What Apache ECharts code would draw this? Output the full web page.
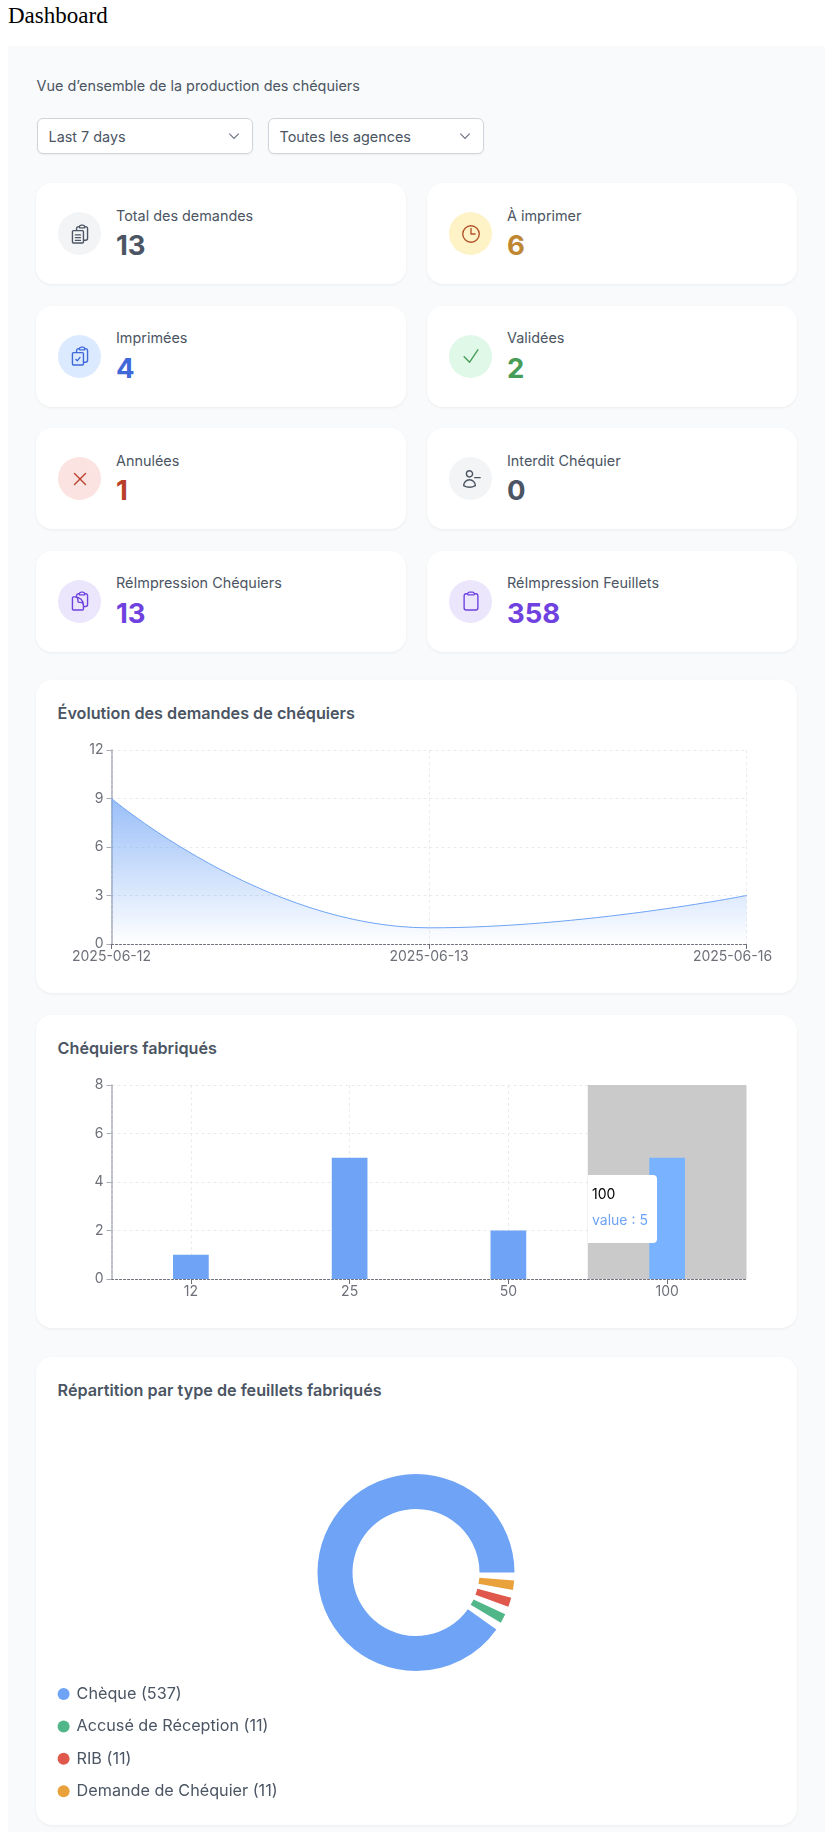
<!DOCTYPE html>
<html lang="fr">
<head>
  <title>Dashboard</title>
  <meta charset="utf-8"/>
  <script src="https://cdn.jsdelivr.net/npm/echarts@6/dist/echarts.min.js"></script>
  <style>
    html, body { margin: 0; height: 1832px; overflow: hidden; background: #fff; }
    body { position: relative; font-family: Inter, sans-serif; color: #4b5563; }
    h1 { position: absolute; left: 8px; top: 2px; margin: 0; font: 400 23px/28px "Liberation Serif", serif; color: #000; }
    #panel { position: absolute; left: 8px; top: 46px; width: 817px; height: 1786px; background: #f9fafb; }
    .subtitle { position: absolute; left: 36.5px; top: 76px; font-size: 14.4px; line-height: 20px; }
    .select { position: absolute; top: 118px; width: 214px; height: 34px; background: #fff; border: 1px solid #d1d5db; border-radius: 6px;
      box-shadow: 0 1px 2px rgba(0,0,0,.05); font-size: 14.4px; line-height: 36px; text-indent: 11px; }
    .select svg { position: absolute; right: 11px; top: 10px; width: 14px; height: 14px; fill: none; stroke: #6b7280; stroke-width: 2; }
    .card { position: absolute; background: #fff; border-radius: 16px; box-shadow: 0 1px 3px rgba(0,0,0,.06); }
    .kpi { width: 369.5px; height: 101px; }
    .kpi .circle { position: absolute; left: 22px; top: 29px; width: 43px; height: 43px; border-radius: 50%; display: flex; align-items: center; justify-content: center; }
    .kpi svg { width: 22px; height: 22px; fill: none; stroke-width: 1.5; stroke-linecap: round; stroke-linejoin: round; }
    .kpi .label { position: absolute; left: 80px; top: 22.5px; font-size: 14.4px; line-height: 20px; white-space: nowrap; }
    .kpi .value { position: absolute; left: 80px; top: 44px; font-size: 27.5px; line-height: 36px; font-weight: 700; }
    .wide { left: 36px; width: 761px; }
    .wide h2 { position: absolute; left: 21.6px; top: 22px; margin: 0; font-size: 16.2px; line-height: 22px; font-weight: 600; color: #4b5563; white-space: nowrap; }
    .chart { position: absolute; left: 0; top: 50px; width: 761px; }
  </style>
</head>

<body>
<h1>Dashboard</h1>
<div id="panel"></div>
<div class="subtitle">Vue d’ensemble de la production des chéquiers</div>
<div class="select" style="left:36.5px">Last 7 days<svg viewBox="0 0 24 24"><path d="m4 8 8 8 8-8"/></svg></div>
<div class="select" style="left:267.5px">Toutes les agences<svg viewBox="0 0 24 24"><path d="m4 8 8 8 8-8"/></svg></div>
<div id="kpis"></div>

<div class="card wide" style="top:680px;height:313px">
  <h2>Évolution des demandes de chéquiers</h2>
  <div class="chart" id="evolutionChart" style="height:263px"></div>
</div>
<div class="card wide" style="top:1015px;height:313px">
  <h2>Chéquiers fabriqués</h2>
  <div class="chart" id="fabricatedChart" style="height:263px"></div>
</div>
<div class="card wide" style="top:1357px;height:468px">
  <h2>Répartition par type de feuillets fabriqués</h2>
  <div class="chart" id="sheetsChart" style="height:418px"></div>
</div>

<script>
  // kpi cards
  const kpiLabels = ['Total des demandes', 'À imprimer', 'Imprimées', 'Validées', 'Annulées', 'Interdit Chéquier', 'RéImpression Chéquiers', 'RéImpression Feuillets'];
  const kpiValues = [13, 6, 4, 2, 1, 0, 13, 358];

  // charts
  const evolutionDates = ['2025-06-12', '2025-06-13', '2025-06-16'];
  const evolutionValues = [9, 1, 3];
  const fabricatedSizes = ['12', '25', '50', '100'];
  const fabricatedValues = [1, 5, 2, 5];
  const sheetTypes = ['Chèque', 'Accusé de Réception', 'RIB', 'Demande de Chéquier'];
  const sheetCounts = [537, 11, 11, 11];

  const kpiTextColors = ['#4b5563', '#c08733', '#3f68d8', '#479c57', '#b93f2a', '#4b5563', '#6f42e0', '#6f42e0'];
  const kpiIconColors = ['#4b5563', '#b4532a', '#3f68d8', '#479c57', '#b93f2a', '#4b5563', '#6f42e0', '#6f42e0'];
  const kpiCircles = ['#f3f4f6', '#fdf3c7', '#dbeafe', '#e0f8e8', '#fae3e0', '#f3f4f6', '#ebe6fc', '#ebe6fc'];
  const kpiTops = [183, 183, 305.5, 305.5, 428, 428, 550.5, 550.5];
  const clipTop = 'M11.35 3.836c-.065.21-.1.433-.1.664 0 .414.336.75.75.75h4.5a.75.75 0 0 0 .75-.75 2.25 2.25 0 0 0-.1-.664m-5.8 0A2.251 2.251 0 0 1 13.5 2.25H15c1.012 0 1.867.668 2.15 1.586m-5.8 0c-.376.023-.75.05-1.124.08C9.095 4.01 8.25 4.973 8.25 6.108V8.25m8.9-4.414c.376.023.75.05 1.124.08 1.131.094 1.976 1.057 1.976 2.192V16.5A2.25 2.25 0 0 1 18 18.75h-2.25m-7.5-10.5H4.875c-.621 0-1.125.504-1.125 1.125v11.25c0 .621.504 1.125 1.125 1.125h9.75c.621 0 1.125-.504 1.125-1.125V18.75m-7.5-10.5h6.375c.621 0 1.125.504 1.125 1.125v9.375';
  const kpiIcons = [
    clipTop + 'M7 13h5.5M7 16h5.5M7 19h5.5',
    'M12 6v6h4.5m4.5 0a9 9 0 1 1-18 0 9 9 0 0 1 18 0Z',
    clipTop + 'm-8.25-3 1.5 1.5 3-3.75',
    'm4.5 12.75 6 6 9-13.5',
    'M6 18 18 6M6 6l12 12',
    'M22 10.5h-6m-2.25-4.125a3.375 3.375 0 1 1-6.75 0 3.375 3.375 0 0 1 6.75 0ZM4 19.235v-.11a6.375 6.375 0 0 1 12.75 0v.109A12.318 12.318 0 0 1 10.374 21c-2.331 0-4.512-.645-6.374-1.766Z',
    'M8.25 7.5V6.108c0-1.135.845-2.098 1.976-2.192.373-.03.748-.057 1.123-.08M15.75 18H18a2.25 2.25 0 0 0 2.25-2.25V6.108c0-1.135-.845-2.098-1.976-2.192a48.424 48.424 0 0 0-1.123-.08M15.75 18.75v-1.875a3.375 3.375 0 0 0-3.375-3.375h-1.5a1.125 1.125 0 0 1-1.125-1.125v-1.5A3.375 3.375 0 0 0 6.375 7.5H5.25m11.9-3.664A2.251 2.251 0 0 0 15 2.25h-1.5a2.251 2.251 0 0 0-2.15 1.586m5.8 0c.065.21.1.433.1.664v.75h-6V4.5c0-.231.035-.454.1-.664M6.75 7.5H4.875c-.621 0-1.125.504-1.125 1.125v12c0 .621.504 1.125 1.125 1.125h9.75c.621 0 1.125-.504 1.125-1.125V16.5a9 9 0 0 0-9-9Z',
    'M15.666 3.888A2.25 2.25 0 0 0 13.5 2.25h-3c-1.03 0-1.9.693-2.166 1.638m7.332 0c.055.194.084.4.084.612v0a.75.75 0 0 1-.75.75H9a.75.75 0 0 1-.75-.75v0c0-.212.03-.418.084-.612m7.332 0c.646.049 1.288.11 1.927.184 1.1.128 1.907 1.077 1.907 2.185V19.5a2.25 2.25 0 0 1-2.25 2.25H6.75A2.25 2.25 0 0 1 4.5 19.5V6.257c0-1.108.806-2.057 1.907-2.185a48.208 48.208 0 0 1 1.927-.184'
  ];

  document.getElementById('kpis').innerHTML = kpiLabels.map((label, i) =>
    `<div class="card kpi" style="left:${i % 2 ? 427 : 36}px;top:${kpiTops[i]}px">
       <div class="circle" style="background:${kpiCircles[i]}"><svg viewBox="0 0 24 24" style="stroke:${kpiIconColors[i]}"><path d="${kpiIcons[i]}"/></svg></div>
       <div class="label">${label}</div>
       <div class="value" style="color:${kpiTextColors[i]}">${kpiValues[i]}</div>
     </div>`).join('');

  const BLUE = '#6ea3f5';
  const labelStyle = { color: '#6e7079', fontFamily: 'Inter', fontSize: 14 };
  const yLabelStyle = Object.assign({ padding: [2, 0, 0, 0] }, labelStyle);
  const gridDash = { show: true, lineStyle: { color: '#e9ebee', type: [3, 3] } };
  const axisX = { color: '#6e7079', type: [2, 2] };
  const axisY = { color: '#a8adb5', type: [4, 1], width: 1.5 };

  // line chart
  const evolutionChart = echarts.init(document.getElementById('evolutionChart'));
  evolutionChart.setOption({
    animation: false,
    grid: { left: 75.5, top: 20, width: 635, height: 194 },
    xAxis: {
      type: 'category', boundaryGap: false, data: evolutionDates,
      axisLine: { lineStyle: axisX },
      axisTick: { show: true, lineStyle: { color: '#6e7079' } },
      axisLabel: Object.assign({
        margin: 6, hideOverlap: false, showMinLabel: true, showMaxLabel: true,
        // last date sits left of its tick in the original
        formatter: (v, i) => i === evolutionDates.length - 1 ? `{last|${v}}` : v,
        rich: { last: Object.assign({ padding: [0, 28, 0, 0] }, labelStyle) }
      }, labelStyle),
      splitLine: gridDash
    },
    yAxis: {
      type: 'value', min: 0, max: 12, interval: 3,
      axisLine: { show: true, lineStyle: axisY },
      axisTick: { show: true, lineStyle: { color: '#a8adb5' } },
      axisLabel: yLabelStyle,
      splitLine: gridDash
    },
    series: [{
      type: 'line', data: evolutionValues, smooth: true, showSymbol: false,
      lineStyle: { color: BLUE, width: 1 },
      areaStyle: {
        color: new echarts.graphic.LinearGradient(0, 0, 0, 1, [
          { offset: 0, color: 'rgba(110,163,245,1)' },
          { offset: 1, color: 'rgba(110,163,245,0)' }
        ])
      }
    }]
  });

  // bar chart, tooltip stays open on the last category
  const fabricatedChart = echarts.init(document.getElementById('fabricatedChart'));
  fabricatedChart.setOption({
    animation: false,
    grid: { left: 75.5, top: 20, width: 635, height: 194 },
    tooltip: {
      trigger: 'axis', alwaysShowContent: true, transitionDuration: 0,
      axisPointer: { type: 'shadow', z: 1, animation: false, shadowStyle: { color: '#cacaca', opacity: 1 } },
      position: [551.75, 110],
      backgroundColor: '#fff', borderWidth: 0, padding: [6, 9, 10, 4],
      extraCssText: 'box-shadow:none;border-radius:0 4px 4px 0;line-height:26px;font-family:Inter;font-size:14px;',
      formatter: p => `<div style="color:#000">${p[0].name}</div><div style="color:${BLUE}">value : ${p[0].value}</div>`
    },
    xAxis: {
      type: 'category', data: fabricatedSizes,
      axisLine: { lineStyle: axisX },
      axisTick: { show: true, alignWithLabel: true, lineStyle: { color: '#6e7079' } },
      axisLabel: Object.assign({ margin: 6 }, labelStyle),
      splitLine: Object.assign({ alignWithLabel: true }, gridDash)
    },
    yAxis: {
      type: 'value', min: 0, max: 8, interval: 2,
      axisLine: { show: true, lineStyle: axisY },
      axisTick: { show: true, lineStyle: { color: '#a8adb5' } },
      axisLabel: yLabelStyle,
      splitLine: gridDash
    },
    series: [{ type: 'bar', data: fabricatedValues, barWidth: 35.7, itemStyle: { color: BLUE } }]
  });
  fabricatedChart.dispatchAction({ type: 'showTip', seriesIndex: 0, dataIndex: 3 });

  // donut
  const sheetColors = [BLUE, '#52b788', '#e0584c', '#e9a23b'];
  const sheetsChart = echarts.init(document.getElementById('sheetsChart'));
  sheetsChart.setOption({
    animation: false,
    color: sheetColors,
    legend: {
      orient: 'vertical', left: 21.6, top: 277, padding: 0, itemGap: 12.4,
      icon: 'circle', itemWidth: 12, itemHeight: 12,
      textStyle: { color: '#4b5563', fontFamily: 'Inter', fontSize: 16.2, lineHeight: 20, padding: [0, 0, 0, 2] }
    },
    series: [{
      type: 'pie', center: [380, 165.5], radius: [63.5, 98.5], clockwise: false,
      startAngle: -2.35, padAngle: 4.7, minAngle: 5.5,
      label: { show: false }, labelLine: { show: false },
      data: sheetTypes.map((t, i) => ({ name: `${t} (${sheetCounts[i]})`, value: sheetCounts[i] }))
    }]
  });
</script>
</body>

</html>
